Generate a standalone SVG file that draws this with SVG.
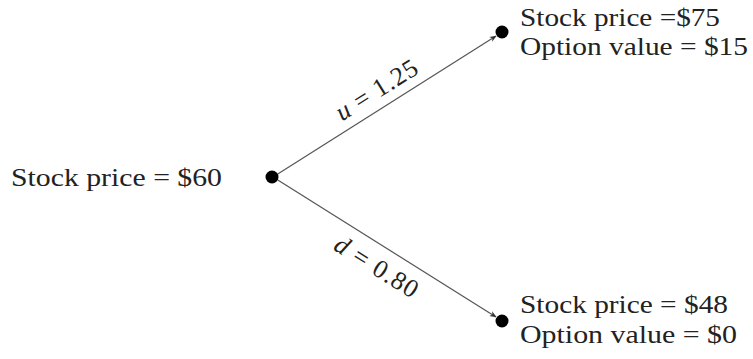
<svg xmlns="http://www.w3.org/2000/svg" width="753" height="359" viewBox="0 0 753 359">
<style>
text{font-family:"Liberation Serif","Times New Roman",serif;font-size:26px;fill:#222}
.it{font-style:italic}
.edge{stroke:#555;stroke-width:1.2;fill:none}
.dot{fill:#000}
</style>
<defs>
<marker id="arr" viewBox="0 0 10 10" refX="9" refY="5" markerWidth="7" markerHeight="7" markerUnits="userSpaceOnUse" orient="auto">
<path d="M0,1 L10,5 L0,9 L3,5 Z" fill="#333"/>
</marker>
</defs>
<rect width="753" height="359" fill="#fff"/>
<g id="connectors">
<line class="edge" x1="273" y1="177" x2="496" y2="36" marker-end="url(#arr)"/>
<line class="edge" x1="273" y1="177" x2="496" y2="317" marker-end="url(#arr)"/>
<text transform="translate(381,97) rotate(-32)" text-anchor="middle" textLength="92"><tspan class="it">u</tspan> = 1.25</text>
<text transform="translate(372,274) rotate(32)" text-anchor="middle" textLength="94"><tspan class="it">d</tspan> = 0.80</text>
</g>
<g id="root">
<circle class="dot" cx="272" cy="177" r="6.5"/>
<text x="11" y="186" textLength="211" lengthAdjust="spacingAndGlyphs">Stock price = $60</text>
</g>
<g id="up">
<circle class="dot" cx="502" cy="32" r="6.5"/>
<text x="520" y="26" textLength="200" lengthAdjust="spacingAndGlyphs">Stock price =$75</text>
<text x="520" y="55" textLength="228" lengthAdjust="spacingAndGlyphs">Option value = $15</text>
</g>
<g id="down">
<circle class="dot" cx="502" cy="321" r="6.5"/>
<text x="520" y="313" textLength="208" lengthAdjust="spacingAndGlyphs">Stock price = $48</text>
<text x="520" y="343" textLength="217" lengthAdjust="spacingAndGlyphs">Option value = $0</text>
</g>
</svg>
